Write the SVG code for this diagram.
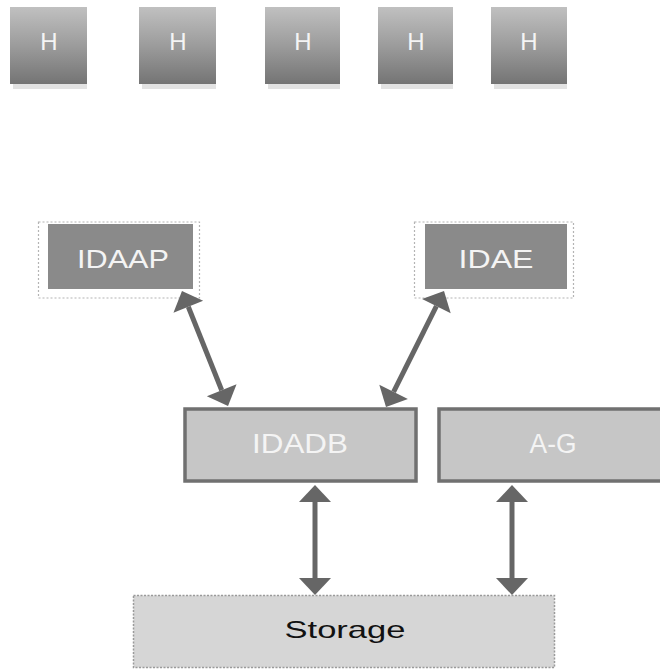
<svg xmlns="http://www.w3.org/2000/svg" width="660" height="671" viewBox="0 0 660 671">
<defs>
<linearGradient id="hg" x1="0" y1="0" x2="0" y2="1">
<stop offset="0" stop-color="#c0c0c0"/>
<stop offset="0.5" stop-color="#9c9c9c"/>
<stop offset="1" stop-color="#747474"/>
</linearGradient>
<marker id="ah" markerUnits="userSpaceOnUse" markerWidth="20" markerHeight="36" viewBox="0 -18 20 36" refX="0" refY="0" orient="auto-start-reverse" overflow="visible">
<path d="M0,-16 L17,0 L0,16 Z" fill="#666666"/>
</marker>
</defs>
<style>
.hbox{fill:url(#hg);}
.hsh{fill:#e2e2e2;}
.lbl{font-family:"Liberation Sans",Arial,sans-serif;fill:#f4f4f4;text-anchor:middle;}
.frame{fill:#ffffff;stroke:#b4b4b4;stroke-width:1.2;stroke-dasharray:2 2;}
.dark{fill:#8a8a8a;}
.mid{fill:#c6c6c6;stroke:#707070;stroke-width:3.5;}
.sto{fill:#d6d6d6;stroke:#9a9a9a;stroke-width:1.5;stroke-dasharray:2 1.5;}
.conn{stroke:#666666;stroke-width:5;fill:none;marker-start:url(#ah);marker-end:url(#ah);}
</style>
<g id="h1"><rect class="hsh" x="13" y="82" width="74" height="7"/><rect class="hbox" x="10" y="7" width="77" height="77"/><text class="lbl" x="49" y="50" font-size="24">H</text></g>
<g id="h2"><rect class="hsh" x="142" y="82" width="74" height="7"/><rect class="hbox" x="139" y="7" width="77" height="77"/><text class="lbl" x="178" y="50" font-size="24">H</text></g>
<g id="h3"><rect class="hsh" x="268" y="82" width="72" height="7"/><rect class="hbox" x="265" y="7" width="75" height="77"/><text class="lbl" x="303" y="50" font-size="24">H</text></g>
<g id="h4"><rect class="hsh" x="381" y="82" width="72" height="7"/><rect class="hbox" x="378" y="7" width="75" height="77"/><text class="lbl" x="416" y="50" font-size="24">H</text></g>
<g id="h5"><rect class="hsh" x="494" y="82" width="73" height="7"/><rect class="hbox" x="491" y="7" width="76" height="77"/><text class="lbl" x="529" y="50" font-size="24">H</text></g>
<g id="idaap"><rect class="frame" x="38.5" y="222" width="161" height="76"/><rect class="dark" x="48" y="224" width="145" height="65"/><text class="lbl" x="123" y="268" font-size="26" textLength="92" lengthAdjust="spacingAndGlyphs">IDAAP</text></g>
<g id="idae"><rect class="frame" x="414.5" y="222" width="159" height="76"/><rect class="dark" x="425" y="224" width="142" height="65"/><text class="lbl" x="496" y="268" font-size="26" textLength="75" lengthAdjust="spacingAndGlyphs">IDAE</text></g>
<g id="idadb"><rect class="mid" x="185" y="409" width="231" height="72"/><text class="lbl" x="300" y="453" font-size="27" textLength="96" lengthAdjust="spacingAndGlyphs">IDADB</text></g>
<g id="ag"><rect class="mid" x="439" y="409" width="230" height="72"/><text class="lbl" x="553" y="453" font-size="27" textLength="47" lengthAdjust="spacingAndGlyphs">A-G</text></g>
<g id="storage"><rect class="sto" x="133.5" y="595.5" width="421" height="72"/><text x="345" y="638" font-family="Liberation Sans, Arial, sans-serif" font-size="24" fill="#111111" text-anchor="middle" textLength="121" lengthAdjust="spacingAndGlyphs">Storage</text></g>
<g id="connectors">
<line class="conn" x1="188.3" y1="306.8" x2="221.7" y2="390.2"/>
<line class="conn" x1="436.4" y1="306.2" x2="393.6" y2="391.8"/>
<line class="conn" x1="315" y1="502" x2="315" y2="578"/>
<line class="conn" x1="512" y1="502" x2="512" y2="578"/>
</g>
</svg>
